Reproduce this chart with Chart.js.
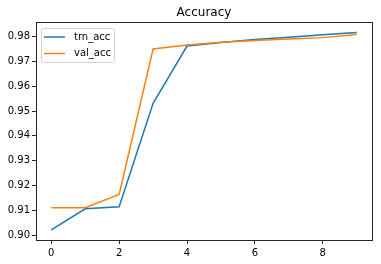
<!DOCTYPE html>
<html>
<head>
<meta charset="utf-8">
<script src="https://cdn.jsdelivr.net/npm/chart.js@4/dist/chart.umd.min.js"></script>
<style>
  html, body { margin: 0; padding: 0; background: #fff; }
  #wrap { width: 381px; height: 264px; }
</style>
</head>
<body>
<div id="wrap"><canvas id="accChart" width="381" height="264"></canvas></div>
<script>
// dados
const epochs = [0, 1, 2, 3, 4, 5, 6, 7, 8, 9];
const trnAcc = [0.9021, 0.9106, 0.9114, 0.9531, 0.9762, 0.9776, 0.9788, 0.9798, 0.9808, 0.9817];
const valAcc = [0.9110, 0.9110, 0.9164, 0.9750, 0.9766, 0.9777, 0.9784, 0.9790, 0.9796, 0.9809];
const xTicks = [0, 2, 4, 6, 8];
const yTicks = [0.90, 0.91, 0.92, 0.93, 0.94, 0.95, 0.96, 0.97, 0.98];
const chartTitle = 'Accuracy';
const seriesNames = ['trn_acc', 'val_acc'];

const FONT = '"DejaVu Sans", sans-serif';
const AXIS = '#262626';

function toPoints(ys) {
    return epochs.map((x, i) => ({ x: x, y: ys[i] }));
}

// título, moldura e legenda no estilo matplotlib
const mplDecor = {
    id: 'mplDecor',
    afterDraw(chart) {
        const ctx = chart.ctx;
        const a = chart.chartArea;
        ctx.save();
        ctx.strokeStyle = AXIS;
        ctx.lineWidth = 1;
        ctx.strokeRect(Math.round(a.left) + 0.5, Math.round(a.top) + 0.5,
            Math.round(a.right - a.left), Math.round(a.bottom - a.top));

        ctx.fillStyle = '#000';
        ctx.font = '12px ' + FONT;
        ctx.textAlign = 'center';
        ctx.textBaseline = 'middle';
        ctx.fillText(chartTitle, (a.left + a.right) / 2, 13);

        // legenda
        const lx = a.left + 5, ly = a.top + 6;
        const w = 73, h = 34;
        ctx.fillStyle = 'rgba(255,255,255,0.8)';
        ctx.strokeStyle = '#d0d0d0';
        ctx.beginPath();
        ctx.roundRect(lx + 0.5, ly + 0.5, w, h, 2);
        ctx.fill();
        ctx.stroke();
        ctx.font = '10px ' + FONT;
        ctx.textAlign = 'left';
        chart.data.datasets.forEach((ds, i) => {
            const y = ly + 9 + i * 16.5;
            ctx.strokeStyle = ds.borderColor;
            ctx.lineWidth = 1.5;
            ctx.beginPath();
            ctx.moveTo(lx + 3, y);
            ctx.lineTo(lx + 24, y);
            ctx.stroke();
            ctx.fillStyle = '#000';
            ctx.fillText(ds.label, lx + 33, y);
        });
        ctx.restore();
    }
};

const ctx = document.getElementById('accChart').getContext('2d');
const accChart = new Chart(ctx, {
    type: 'line',
    data: {
        datasets: [
            { label: seriesNames[0], data: toPoints(trnAcc), borderColor: '#1f77b4', order: 2 },
            { label: seriesNames[1], data: toPoints(valAcc), borderColor: '#ff7f0e', order: 1 }
        ]
    },
    options: {
        responsive: false,
        animation: false,
        layout: { padding: { top: 22, right: 9, left: 0, bottom: 0 } },
        elements: {
            line: { borderWidth: 1.5, tension: 0, fill: false },
            point: { radius: 0 }
        },
        plugins: {
            legend: { display: false },
            title: { display: false },
            tooltip: { enabled: false }
        },
        scales: {
            x: {
                type: 'linear',
                min: -0.45,
                max: 9.45,
                afterBuildTicks: s => { s.ticks = xTicks.map(v => ({ value: v })); },
                afterFit: s => { s.height = 24; },
                grid: { drawOnChartArea: false, drawTicks: true, tickLength: 4, color: AXIS },
                border: { display: false },
                ticks: { color: '#000', font: { family: FONT, size: 10 }, padding: 3, maxRotation: 0 }
            },
            y: {
                type: 'linear',
                min: 0.898,
                max: 0.9859,
                afterBuildTicks: s => { s.ticks = yTicks.map(v => ({ value: v })); },
                afterFit: s => { s.width = 36; },
                grid: { drawOnChartArea: false, drawTicks: true, tickLength: 4, color: AXIS },
                border: { display: false },
                ticks: {
                    color: '#000', font: { family: FONT, size: 10 }, padding: 2,
                    callback: v => v.toFixed(2)
                }
            }
        }
    },
    plugins: [mplDecor]
});
</script>
</body>
</html>
